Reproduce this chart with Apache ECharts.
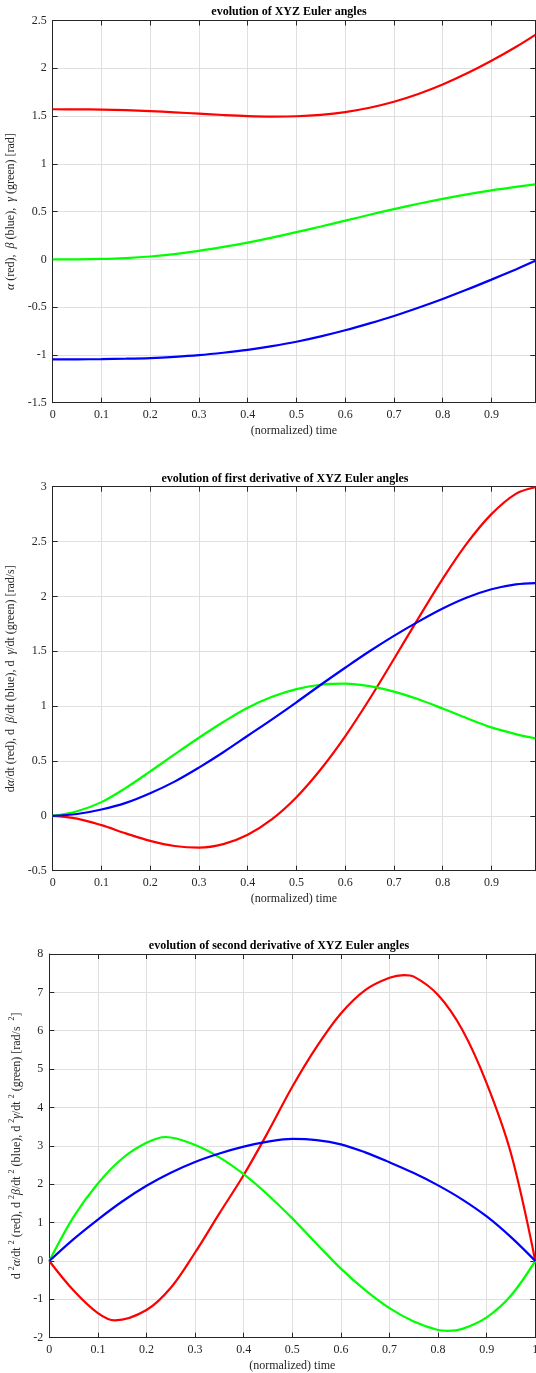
<!DOCTYPE html>
<html>
<head>
<meta charset="utf-8">
<script src="https://cdn.jsdelivr.net/npm/echarts@6/dist/echarts.min.js"></script>
<style>
html, body { margin: 0; padding: 0; background: #fff; }
#main { width: 536px; height: 1373px; }
</style>
</head>
<body>
<div id="main"></div>
<script>
// normalized time samples
const tA = [0, 0.05, 0.1, 0.15, 0.2, 0.25, 0.3, 0.35, 0.4, 0.45, 0.5, 0.55, 0.6, 0.65, 0.7, 0.75, 0.8, 0.85, 0.9, 0.95, 0.99]
const tB = [0, 0.05, 0.1, 0.15, 0.2, 0.25, 0.3, 0.35, 0.4, 0.45, 0.5, 0.55, 0.6, 0.65, 0.7, 0.75, 0.8, 0.85, 0.9, 0.95, 1]
const tRed = [0, 0.05, 0.1, 0.135, 0.2, 0.25, 0.3, 0.35, 0.4, 0.45, 0.5, 0.55, 0.6, 0.65, 0.7, 0.73, 0.75, 0.8, 0.85, 0.9, 0.95, 1]
const tGreen = [0, 0.05, 0.1, 0.15, 0.2, 0.24, 0.3, 0.35, 0.4, 0.45, 0.5, 0.55, 0.6, 0.65, 0.7, 0.75, 0.8, 0.82, 0.85, 0.9, 0.95, 1]

// angles [rad]
const alpha = [1.571, 1.570, 1.567, 1.561, 1.552, 1.539, 1.525, 1.511, 1.500, 1.495, 1.498, 1.513, 1.542, 1.587, 1.65, 1.731, 1.83, 1.947, 2.079, 2.223, 2.35]
const beta = [-1.047, -1.046, -1.044, -1.040, -1.033, -1.020, -1.002, -0.977, -0.947, -0.908, -0.862, -0.806, -0.742, -0.670, -0.592, -0.506, -0.414, -0.316, -0.212, -0.105, -0.015]
const gamma = [0, 0.001, 0.005, 0.014, 0.03, 0.055, 0.089, 0.13, 0.176, 0.228, 0.285, 0.344, 0.405, 0.467, 0.526, 0.582, 0.634, 0.681, 0.722, 0.758, 0.785]

// first derivative [rad/s]
const dAlpha = [0, -0.025, -0.085, -0.16, -0.228, -0.275, -0.29, -0.258, -0.172, -0.03, 0.17, 0.425, 0.725, 1.065, 1.43, 1.8, 2.16, 2.485, 2.75, 2.935, 2.995]
const dBeta = [0, 0.017, 0.058, 0.118, 0.206, 0.312, 0.44, 0.58, 0.73, 0.88, 1.035, 1.195, 1.35, 1.5, 1.64, 1.77, 1.89, 1.99, 2.065, 2.11, 2.122]
const dGamma = [0, 0.042, 0.125, 0.255, 0.405, 0.56, 0.712, 0.855, 0.985, 1.085, 1.155, 1.195, 1.205, 1.182, 1.132, 1.062, 0.978, 0.889, 0.806, 0.745, 0.707]

// second derivative [rad/s^2]
const ddAlpha = [0, -0.77, -1.36, -1.55, -1.28, -0.7, 0.22, 1.24, 2.24, 3.36, 4.54, 5.58, 6.45, 7.06, 7.38, 7.45, 7.41, 6.93, 6.02, 4.63, 2.8, 0]
const ddBeta = [0, 0.57, 1.08, 1.55, 1.96, 2.3, 2.58, 2.8, 2.98, 3.11, 3.18, 3.15, 3.04, 2.83, 2.57, 2.29, 1.97, 1.6, 1.16, 0.62, 0]
const ddGamma = [0, 1.15, 2.02, 2.67, 3.08, 3.23, 3.02, 2.7, 2.26, 1.72, 1.11, 0.45, -0.2, -0.76, -1.23, -1.58, -1.8, -1.82, -1.77, -1.47, -0.9, 0]

const titles = [
    'evolution of XYZ Euler angles',
    'evolution of first derivative of XYZ Euler angles',
    'evolution of second derivative of XYZ Euler angles'
]

const serif = '"Liberation Serif", "DejaVu Serif", serif'
const dark = '#262626'
const gridGray = '#dfdfdf'

const grids = [
    { left: 52.7, top: 20.5, width: 482.6, height: 382.2, outerBoundsMode: 'none' },
    { left: 52.7, top: 486.7, width: 482.6, height: 384, outerBoundsMode: 'none' },
    { left: 49.3, top: 954, width: 486, height: 383.7, outerBoundsMode: 'none' }
]
const xMax = [0.99, 0.99, 1]
const yRange = [[-1.5, 2.5, 0.5], [-0.5, 3, 0.5], [-2, 8, 1]]
const yNames = [
    '{i|α} (red),  {i|β} (blue),  {i|γ} (green) [rad]',
    'd{i|α}/dt (red), d  {i|β}/dt (blue), d  {i|γ}/dt (green) [rad/s]',
    'd {s|2}{i|α}/dt {s|2} (red), d {s|2}{i|β}/dt {s|2} (blue), d {s|2}{i|γ}/dt {s|2} (green) [rad/s  {s|2}]'
]
const yGaps = [20, 20, 11]
const titleX = [289, 285, 279]
const titleY = [11.5, 478.5, 945.5]

const richName = {
    i: { fontFamily: serif, fontStyle: 'italic', fontSize: 12, color: dark },
    s: { fontFamily: serif, fontSize: 8, color: dark, verticalAlign: 'top', lineHeight: 16 }
}

var xAxis = []
var yAxis = []
grids.forEach((g, i) => {
    xAxis.push({
        gridIndex: i, type: 'value', min: 0, max: xMax[i], interval: 0.1,
        axisLine: { onZero: false, lineStyle: { color: dark, width: 1 } },
        axisTick: { inside: true, length: 5, lineStyle: { color: dark } },
        splitLine: { show: true, lineStyle: { color: gridGray, width: 1 } },
        axisLabel: {
            fontFamily: serif, fontSize: 12, color: dark, margin: 6,
            showMaxLabel: xMax[i] === 1,
            formatter: v => String(Math.round(v * 10) / 10)
        },
        name: '(normalized) time', nameLocation: 'middle', nameGap: 22,
        nameTextStyle: { fontFamily: serif, fontSize: 12, color: dark }
    })
    xAxis.push({
        gridIndex: i, type: 'value', position: 'top', min: 0, max: xMax[i], interval: 0.1,
        axisLine: { onZero: false, lineStyle: { color: dark, width: 1 } },
        axisTick: { inside: true, length: 5, lineStyle: { color: dark } },
        axisLabel: { show: false },
        splitLine: { show: false }
    })
    yAxis.push({
        gridIndex: i, type: 'value', min: yRange[i][0], max: yRange[i][1], interval: yRange[i][2],
        axisLine: { show: true, onZero: false, lineStyle: { color: dark, width: 1 } },
        axisTick: { show: true, inside: true, length: 5, lineStyle: { color: dark } },
        splitLine: { show: true, lineStyle: { color: gridGray, width: 1 } },
        axisLabel: { fontFamily: serif, fontSize: 12, color: dark, margin: 6 },
        name: yNames[i], nameLocation: 'middle', nameGap: yGaps[i],
        nameTextStyle: { fontFamily: serif, fontSize: 12, color: dark, rich: richName }
    })
    yAxis.push({
        gridIndex: i, type: 'value', position: 'right', min: yRange[i][0], max: yRange[i][1], interval: yRange[i][2],
        axisLine: { show: true, onZero: false, lineStyle: { color: dark, width: 1 } },
        axisTick: { show: true, inside: true, length: 5, lineStyle: { color: dark } },
        axisLabel: { show: false },
        splitLine: { show: false }
    })
})

function line(t, vals, color, i) {
    return {
        type: 'line', xAxisIndex: i * 2, yAxisIndex: i * 2,
        data: t.map((x, k) => [x, vals[k]]),
        smooth: 0.35, symbol: 'none',
        lineStyle: { color: color, width: 2.2 },
        itemStyle: { color: color }
    }
}

var chart = echarts.init(document.getElementById('main'))
chart.setOption({
    animation: false,
    backgroundColor: '#fff',
    grid: grids,
    xAxis: xAxis,
    yAxis: yAxis,
    graphic: titles.map((t, i) => ({
        type: 'text', x: titleX[i], y: titleY[i],
        style: {
            text: t, fontFamily: serif, fontWeight: 'bold', fontSize: 12,
            fill: '#000', align: 'center', verticalAlign: 'middle'
        }
    })),
    series: [
        line(tA, alpha, '#ff0000', 0),
        line(tA, gamma, '#00ff00', 0),
        line(tA, beta, '#0000ff', 0),
        line(tA, dAlpha, '#ff0000', 1),
        line(tA, dGamma, '#00ff00', 1),
        line(tA, dBeta, '#0000ff', 1),
        line(tRed, ddAlpha, '#ff0000', 2),
        line(tGreen, ddGamma, '#00ff00', 2),
        line(tB, ddBeta, '#0000ff', 2)
    ]
})
</script>
</body>
</html>
